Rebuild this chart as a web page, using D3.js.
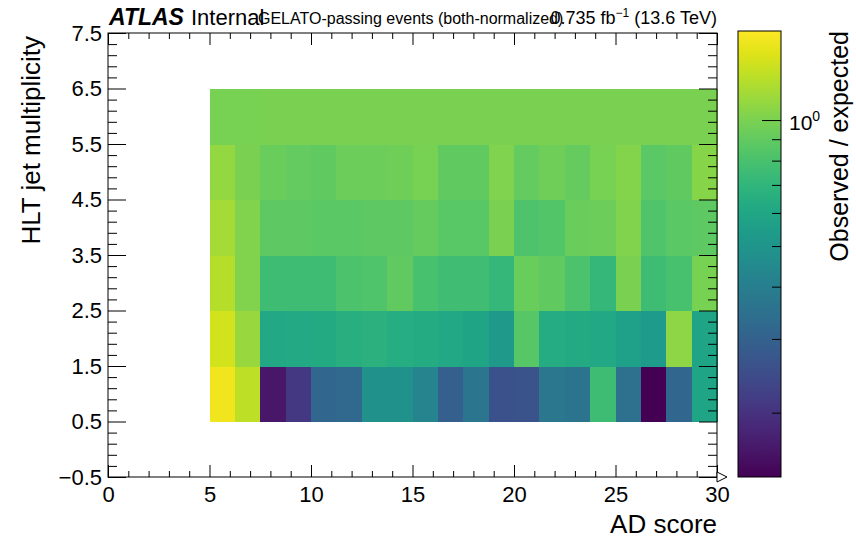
<!DOCTYPE html>
<html>
<head>
<meta charset="utf-8">
<script src="https://cdn.jsdelivr.net/npm/d3@7"></script>
<style>
  html, body { margin: 0; padding: 0; background: #fff; }
  svg { display: block; font-family: "Liberation Sans", Arial, Helvetica, sans-serif; }
</style>
</head>
<body>
<svg id="chart" width="856" height="540"></svg>
<script>
// ---------------- data ----------------
const adScoreEdges = [5, 6.25, 7.5, 8.75, 10, 11.25, 12.5, 13.75, 15, 16.25, 17.5,
                      18.75, 20, 21.25, 22.5, 23.75, 25, 26.25, 27.5, 28.75, 30];
const jetMultiplicity = [1, 2, 3, 4, 5, 6];

const ratioNJet1 = [1.55, 1.28, 0.163, 0.208, 0.315, 0.319, 0.479, 0.479, 0.423, 0.293,
                    0.365, 0.259, 0.262, 0.372, 0.357, 0.763, 0.348, 0.141, 0.312, 0.590];
const ratioNJet2 = [1.374, 1.116, 0.612, 0.615, 0.625, 0.658, 0.675, 0.640, 0.630, 0.612,
                    0.590, 0.528, 0.852, 0.635, 0.625, 0.612, 0.561, 0.536, 1.075, 0.590];
const ratioNJet3 = [1.246, 1.024, 0.763, 0.763, 0.763, 0.811, 0.831, 0.895, 0.801, 0.772,
                    0.772, 0.717, 0.928, 0.895, 0.811, 0.717, 0.999, 0.763, 0.801, 0.987];
const ratioNJet4 = [1.172, 1.024, 0.884, 0.884, 0.873, 0.869, 0.884, 0.888, 0.917, 0.862,
                    0.862, 0.999, 0.821, 0.841, 0.928, 0.940, 1.024, 0.831, 0.873, 0.884];
const ratioNJet5 = [1.100, 0.999, 0.928, 0.906, 0.895, 0.940, 0.940, 0.947, 0.987, 0.899,
                    0.899, 1.011, 0.906, 0.947, 0.917, 0.987, 1.036, 0.873, 0.899, 1.049];
const ratioNJet6 = [0.990, 0.990, 0.995, 0.995, 0.995, 1.000, 1.000, 1.000, 1.000, 1.000,
                    1.000, 1.000, 1.000, 1.000, 1.000, 1.000, 1.000, 1.000, 0.995, 0.995];
const ratioRows = [ratioNJet1, ratioNJet2, ratioNJet3, ratioNJet4, ratioNJet5, ratioNJet6];

const xTickValues = [0, 5, 10, 15, 20, 25, 30];
const yTickValues = [-0.5, 0.5, 1.5, 2.5, 3.5, 4.5, 5.5, 6.5, 7.5];
const zRange = [0.1404, 1.632];
const zMajorTicks = [1];
const zMinorTicks = [0.2, 0.3, 0.4, 0.5, 0.6, 0.7, 0.8, 0.9];

// ---------------- layout ----------------
const svg = d3.select("#chart");
const plot = { left: 108, right: 717, top: 33, bottom: 477 };
const x = d3.scaleLinear().domain([0, 30]).range([plot.left, plot.right]);
const y = d3.scaleLinear().domain([-0.5, 7.5]).range([plot.bottom, plot.top]);
const color = d3.scaleSequentialLog(d3.interpolateViridis).domain(zRange).clamp(true);

// ---------------- cells ----------------
const cells = [];
ratioRows.forEach((row, i) => {
  row.forEach((v, j) => {
    cells.push({ nj: jetMultiplicity[i], x0: adScoreEdges[j], x1: adScoreEdges[j + 1], v });
  });
});
svg.append("g").selectAll("rect").data(cells).join("rect")
  .attr("x", d => x(d.x0))
  .attr("y", d => y(d.nj + 0.5))
  .attr("width", d => x(d.x1) - x(d.x0) + 0.5)
  .attr("height", d => y(d.nj - 0.5) - y(d.nj + 0.5) + 0.5)
  .attr("fill", d => color(d.v))
  .attr("shape-rendering", "crispEdges");

// ---------------- axes ----------------
const minorX = d3.range(0, 31, 1).filter(v => v % 5 !== 0);
const minorY = d3.range(0, 41).map(k => -0.5 + k * 0.2).filter(v => Math.abs((v + 0.5) % 1) > 0.01 && Math.abs((v + 0.5) % 1 - 1) > 0.01);

function styleAxis(g, fontSize) {
  g.select(".domain").remove();
  g.selectAll("line").attr("stroke", "#000").attr("stroke-width", 1);
  g.selectAll("text").attr("fill", "#000").attr("font-size", fontSize)
    .attr("font-family", "Liberation Sans, Arial, sans-serif");
}

// bottom
svg.append("g").attr("transform", `translate(0,${plot.bottom})`)
  .call(d3.axisBottom(x).tickValues(xTickValues).tickSize(-12).tickPadding(9).tickFormat(d3.format("d")))
  .call(g => styleAxis(g, 22));
svg.append("g").attr("transform", `translate(0,${plot.bottom})`)
  .call(d3.axisBottom(x).tickValues(minorX).tickSize(-6).tickFormat(""))
  .call(g => styleAxis(g, 22));
// top
svg.append("g").attr("transform", `translate(0,${plot.top})`)
  .call(d3.axisTop(x).tickValues(xTickValues).tickSize(-12).tickFormat(""))
  .call(g => styleAxis(g, 22));
svg.append("g").attr("transform", `translate(0,${plot.top})`)
  .call(d3.axisTop(x).tickValues(minorX).tickSize(-6).tickFormat(""))
  .call(g => styleAxis(g, 22));
// left
svg.append("g").attr("transform", `translate(${plot.left},0)`)
  .call(d3.axisLeft(y).tickValues(yTickValues).tickSize(-18).tickPadding(6).tickFormat(d3.format(".1f")))
  .call(g => styleAxis(g, 22));
svg.append("g").attr("transform", `translate(${plot.left},0)`)
  .call(d3.axisLeft(y).tickValues(minorY).tickSize(-9).tickFormat(""))
  .call(g => styleAxis(g, 22));
// right
svg.append("g").attr("transform", `translate(${plot.right},0)`)
  .call(d3.axisRight(y).tickValues(yTickValues).tickSize(-18).tickFormat(""))
  .call(g => styleAxis(g, 22));
svg.append("g").attr("transform", `translate(${plot.right},0)`)
  .call(d3.axisRight(y).tickValues(minorY).tickSize(-9).tickFormat(""))
  .call(g => styleAxis(g, 22));

// frame
svg.append("rect")
  .attr("x", plot.left).attr("y", plot.top)
  .attr("width", plot.right - plot.left).attr("height", plot.bottom - plot.top)
  .attr("fill", "none").attr("stroke", "#000").attr("stroke-width", 1);

// arrow at end of x axis
svg.append("path")
  .attr("d", `M${plot.right},${plot.bottom - 5}L${plot.right + 10},${plot.bottom}L${plot.right},${plot.bottom + 5}Z`)
  .attr("fill", "#fff").attr("stroke", "#000").attr("stroke-width", 1);

// axis titles
svg.append("text")
  .attr("x", plot.right).attr("y", 533)
  .attr("text-anchor", "end").attr("font-size", 26).attr("fill", "#000")
  .text("AD score");
svg.append("text")
  .attr("transform", `translate(40,${plot.top + 3}) rotate(-90)`)
  .attr("text-anchor", "end").attr("font-size", 26).attr("fill", "#000")
  .text("HLT jet multiplicity");

// ---------------- colour bar ----------------
const cb = { left: 738, right: 781, top: 31, bottom: 477 };
const cbY = d3.scaleLog().domain(zRange).range([cb.bottom, cb.top]);
const defs = svg.append("defs");
const grad = defs.append("linearGradient").attr("id", "cbgrad")
  .attr("x1", 0).attr("y1", 1).attr("x2", 0).attr("y2", 0);
d3.range(0, 21).forEach(k => {
  grad.append("stop").attr("offset", k / 20).attr("stop-color", d3.interpolateViridis(k / 20));
});
svg.append("rect")
  .attr("x", cb.left).attr("y", cb.top)
  .attr("width", cb.right - cb.left).attr("height", cb.bottom - cb.top)
  .attr("fill", "url(#cbgrad)").attr("stroke", "#000").attr("stroke-width", 1);

svg.append("g").attr("transform", `translate(${cb.right},0)`)
  .call(d3.axisRight(cbY).tickValues(zMajorTicks).tickSize(-19).tickFormat(""))
  .call(g => styleAxis(g, 22));
svg.append("g").attr("transform", `translate(${cb.right},0)`)
  .call(d3.axisRight(cbY).tickValues(zMinorTicks).tickSize(-9).tickFormat(""))
  .call(g => styleAxis(g, 22));

const lab = svg.append("text")
  .attr("x", cb.right + 8).attr("y", cbY(1) + 10)
  .attr("font-size", 21).attr("fill", "#000");
lab.append("tspan").text("10");
lab.append("tspan").attr("font-size", 14).attr("dy", -9).text("0");

svg.append("text")
  .attr("transform", `translate(848,${cb.top}) rotate(-90)`)
  .attr("text-anchor", "end").attr("font-size", 25).attr("fill", "#000")
  .text("Observed / expected");

// ---------------- header ----------------
const hdr = svg.append("text").attr("x", 109).attr("y", 25).attr("fill", "#000");
hdr.append("tspan").attr("font-size", 23).attr("font-weight", "bold").attr("font-style", "italic").text("ATLAS");
hdr.append("tspan").attr("font-size", 22).attr("dx", 7).text("Internal");

svg.append("text")
  .attr("x", 258).attr("y", 24)
  .attr("font-size", 16).attr("fill", "#000")
  .text("GELATO-passing events (both-normalized)");

const lumi = svg.append("text")
  .attr("x", plot.right).attr("y", 24)
  .attr("text-anchor", "end").attr("font-size", 18).attr("fill", "#000");
lumi.append("tspan").text("0.735 fb");
lumi.append("tspan").attr("font-size", 12).attr("dy", -7).text("−1");
lumi.append("tspan").attr("dy", 7).text(" (13.6 TeV)");
</script>
</body>
</html>
